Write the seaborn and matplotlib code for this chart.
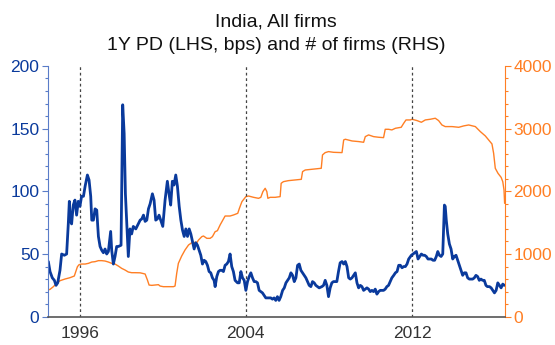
import matplotlib
matplotlib.use("Agg")
import matplotlib.pyplot as plt
from matplotlib.ticker import MultipleLocator, FixedLocator
import numpy as np
import pandas as pd
import seaborn as sns

# 1-year probability of default, basis points (monthly, fractional years)
pd_years = [
    1994.49, 1994.57, 1994.68, 1994.78, 1994.86, 1994.94, 1995.05, 1995.13, 1995.26, 1995.37,
    1995.45, 1995.50, 1995.56, 1995.61, 1995.69, 1995.77, 1995.85, 1995.93, 1996.01, 1996.09,
    1996.18, 1996.26, 1996.37, 1996.45, 1996.53, 1996.58, 1996.66, 1996.74, 1996.82, 1996.90,
    1996.98, 1997.06, 1997.14, 1997.22, 1997.30, 1997.38, 1997.49, 1997.54, 1997.62, 1997.70,
    1997.78, 1997.86, 1997.99, 1998.07, 1998.14, 1998.20, 1998.28, 1998.34, 1998.42, 1998.50,
    1998.58, 1998.70, 1998.79, 1998.91, 1998.99, 1999.07, 1999.15, 1999.23, 1999.31, 1999.39,
    1999.50, 1999.58, 1999.66, 1999.74, 1999.82, 1999.90, 2000.00, 2000.11, 2000.22, 2000.30,
    2000.38, 2000.46, 2000.54, 2000.625, 2000.705, 2000.79, 2000.87, 2000.95, 2001.03, 2001.11,
    2001.19, 2001.27, 2001.35, 2001.43, 2001.51, 2001.59, 2001.67, 2001.75, 2001.83, 2001.91,
    2001.99, 2002.07, 2002.15, 2002.23, 2002.31, 2002.39, 2002.47, 2002.52, 2002.60, 2002.68,
    2002.76, 2002.84, 2002.92, 2003.00, 2003.08, 2003.16, 2003.24, 2003.32, 2003.40, 2003.48,
    2003.60, 2003.68, 2003.76, 2003.84, 2003.92, 2004.00, 2004.08, 2004.16, 2004.24, 2004.32,
    2004.40, 2004.48, 2004.56, 2004.64, 2004.72, 2004.80, 2004.88, 2004.96, 2005.04, 2005.12,
    2005.20, 2005.28, 2005.36, 2005.44, 2005.52, 2005.60, 2005.68, 2005.77, 2005.85, 2005.93,
    2006.01, 2006.09, 2006.17, 2006.25, 2006.33, 2006.41, 2006.49, 2006.57, 2006.65, 2006.73,
    2006.81, 2006.89, 2006.97, 2007.05, 2007.13, 2007.21, 2007.29, 2007.37, 2007.45, 2007.53,
    2007.66, 2007.74, 2007.82, 2007.90, 2007.98, 2008.06, 2008.14, 2008.22, 2008.30, 2008.38,
    2008.46, 2008.54, 2008.63, 2008.71, 2008.79, 2008.87, 2008.95, 2009.03, 2009.11, 2009.19,
    2009.27, 2009.35, 2009.43, 2009.51, 2009.59, 2009.67, 2009.75, 2009.83, 2009.91, 2009.99,
    2010.07, 2010.15, 2010.23, 2010.31, 2010.39, 2010.47, 2010.55, 2010.63, 2010.71, 2010.79,
    2010.87, 2010.95, 2011.03, 2011.12, 2011.20, 2011.28, 2011.36, 2011.44, 2011.52, 2011.60,
    2011.68, 2011.76, 2011.84, 2011.97, 2012.05, 2012.13, 2012.21, 2012.29, 2012.37, 2012.45,
    2012.53, 2012.61, 2012.69, 2012.77, 2012.85, 2012.93, 2013.01, 2013.09, 2013.17, 2013.24,
    2013.32, 2013.40, 2013.48, 2013.56, 2013.60, 2013.65, 2013.72, 2013.80, 2013.88, 2013.96,
    2014.04, 2014.12, 2014.20, 2014.28, 2014.36, 2014.44, 2014.52, 2014.60, 2014.68, 2014.76,
    2014.84, 2014.92, 2015.00, 2015.08, 2015.16, 2015.24, 2015.32, 2015.40, 2015.48, 2015.56,
    2015.63, 2015.73, 2015.81, 2015.89, 2015.97, 2016.05, 2016.13, 2016.21, 2016.29, 2016.37,
    2016.45,
]
pd_bps = [
    44, 36, 31, 29, 25, 27, 37, 50, 49, 50,
    74, 92, 76, 74, 89, 93, 81, 92, 88, 96,
    96, 104, 113, 109, 96, 77, 77, 86, 85, 64,
    56, 53, 51, 54, 50, 52, 68, 53, 42, 48,
    56, 56, 57, 169, 146, 98, 69, 48, 70, 66,
    72, 70, 73, 77, 78, 81, 76, 77, 86, 90,
    98, 93, 77, 78, 81, 77, 72, 93, 108, 98,
    89, 108, 105, 113, 104, 88, 77, 69, 64, 70,
    64, 70, 66, 60, 54, 59, 57, 53, 49, 42,
    45, 44, 41, 36, 35, 31, 29, 24, 32, 36,
    37, 37, 36, 41, 42, 44, 50, 40, 36, 29,
    27, 27, 36, 31, 29, 21, 28, 32, 35, 31,
    28, 28, 27, 21, 20, 19, 17, 15, 15, 15,
    15, 14, 15, 13, 16, 13, 16, 21, 23, 27,
    29, 31, 35, 33, 28, 31, 41, 42, 37, 35,
    33, 31, 28, 25, 24, 28, 27, 25, 24, 23,
    24, 25, 29, 25, 16, 23, 27, 28, 28, 28,
    36, 43, 44, 42, 44, 40, 31, 30, 31, 33,
    35, 27, 23, 25, 24, 21, 22, 23, 22, 20,
    21, 20, 22, 18, 20, 21, 21, 21, 22, 24,
    25, 28, 31, 33, 35, 36, 41, 41, 39, 40,
    40, 42, 46, 49, 50, 51, 52, 46, 48, 50,
    49, 49, 48, 46, 46, 46, 45, 45, 48, 52,
    49, 48, 50, 89, 88, 77, 66, 58, 54, 46,
    48, 49, 45, 41, 37, 33, 35, 35, 31, 30,
    30, 30, 31, 33, 32, 29, 30, 29, 29, 25,
    24, 24, 23, 21, 19, 21, 27, 25, 23, 26,
    25,
]

# Number of firms covered
firm_years = [
    1994.46, 1994.57, 1994.73, 1994.89, 1995.05, 1995.29, 1995.53, 1995.74, 1995.81, 1995.89,
    1995.97, 1996.09, 1996.26, 1996.42, 1996.58, 1996.74, 1996.90, 1997.06, 1997.22, 1997.38,
    1997.54, 1997.70, 1997.86, 1998.02, 1998.18, 1998.34, 1998.50, 1998.66, 1998.91, 1999.15,
    1999.26, 1999.34, 1999.47, 1999.63, 1999.79, 1999.87, 2000.03, 2000.27, 2000.51, 2000.59,
    2000.67, 2000.75, 2000.91, 2001.07, 2001.24, 2001.40, 2001.56, 2001.64, 2001.72, 2001.88,
    2001.96, 2002.12, 2002.28, 2002.39, 2002.52, 2002.63, 2002.76, 2002.87, 2003.00, 2003.13,
    2003.24, 2003.40, 2003.61, 2003.69, 2003.81, 2004.00, 2004.13, 2004.37, 2004.61, 2004.72,
    2004.82, 2004.93, 2005.01, 2005.06, 2005.17, 2005.41, 2005.65, 2005.70, 2005.81, 2006.05,
    2006.38, 2006.67, 2006.73, 2006.86, 2007.18, 2007.63, 2007.69, 2007.82, 2007.98, 2008.22,
    2008.63, 2008.71, 2008.79, 2009.11, 2009.43, 2009.67, 2009.75, 2009.91, 2010.15, 2010.39,
    2010.63, 2010.71, 2010.87, 2011.03, 2011.20, 2011.48, 2011.60, 2011.71, 2011.92, 2012.00,
    2012.24, 2012.45, 2012.64, 2012.88, 2013.12, 2013.28, 2013.44, 2013.60, 2013.93, 2014.25,
    2014.49, 2014.73, 2015.05, 2015.29, 2015.53, 2015.69, 2015.85, 2015.93, 2016.01, 2016.14,
    2016.29, 2016.37, 2016.43, 2016.46,
]
firm_counts = [
    425, 436, 479, 532, 574, 601, 622, 649, 718, 798,
    830, 840, 840, 851, 872, 878, 894, 894, 888, 872,
    851, 840, 808, 771, 745, 713, 702, 702, 700, 681,
    585, 505, 500, 505, 511, 489, 479, 479, 479, 489,
    691, 851, 968, 1064, 1144, 1181, 1186, 1181, 1223, 1277,
    1287, 1250, 1250, 1277, 1356, 1372, 1463, 1527, 1606, 1606,
    1606, 1622, 1649, 1729, 1835, 1915, 1925, 1904, 1888, 1904,
    1995, 2048, 1995, 1888, 1904, 1904, 1915, 2128, 2154, 2170,
    2181, 2191, 2314, 2340, 2351, 2367, 2580, 2617, 2633, 2622,
    2617, 2819, 2830, 2803, 2793, 2782, 2872, 2899, 2872, 2862,
    2856, 2989, 2989, 2979, 3005, 3021, 3085, 3138, 3138, 3149,
    3128, 3101, 3138, 3149, 3165, 3128, 3058, 3032, 3032, 3021,
    3043, 3058, 3032, 2952, 2883, 2819, 2755, 2606, 2367, 2287,
    2223, 2154, 2021, 1808,
]

year_ticks = [1996, 2004, 2012]
year_labels = ["1996", "2004", "2012"]
title_lines = ["India, All firms", "1Y PD (LHS, bps) and # of firms (RHS)"]

BLUE = "#0a3a9c"
BLUE_SPINE = "#5a7cc8"
ORANGE = "#ff7f24"
GREY = "#555555"

sns.set_style("white")
plt.rcParams["font.family"] = ["Liberation Sans", "DejaVu Sans"]

pd_df = pd.DataFrame({"year": pd_years, "bps": pd_bps})
firm_df = pd.DataFrame({"year": firm_years, "firms": firm_counts})

fig = plt.figure(figsize=(5.55, 3.45), dpi=100)
ax = fig.add_axes([0.086, 0.082, 0.824, 0.727])
ax2 = ax.twinx()

sns.lineplot(data=firm_df, x="year", y="firms", ax=ax2, color=ORANGE, lw=1.0)
sns.lineplot(data=pd_df, x="year", y="bps", ax=ax, color=BLUE, lw=2.0)

# PD axis above the firm-count axis
ax.set_zorder(ax2.get_zorder() + 1)
ax.patch.set_visible(False)

xmin, xmax = 1994.46, 2016.48
ax.set_xlim(xmin, xmax)
ax.set_ylim(0, 200)
ax2.set_ylim(0, 4000)

for yr in year_ticks:
    ax.axvline(yr, color="#444444", lw=0.9, ls=(0, (2.2, 2.2)), zorder=0)

ax.xaxis.set_major_locator(FixedLocator(year_ticks))
ax.set_xticklabels(year_labels)
ax.xaxis.set_minor_locator(FixedLocator(list(np.arange(1996 - 1.6, xmax, 0.8))))
ax.yaxis.set_major_locator(MultipleLocator(50))
ax.yaxis.set_minor_locator(MultipleLocator(10))
ax2.yaxis.set_major_locator(MultipleLocator(1000))
ax2.yaxis.set_minor_locator(MultipleLocator(200))

ax.set_xlabel("")
ax.set_ylabel("")
ax2.set_ylabel("")

for spine in ["top"]:
    ax.spines[spine].set_visible(False)
    ax2.spines[spine].set_visible(False)
ax.spines["right"].set_visible(False)
ax2.spines["left"].set_visible(False)
ax2.spines["bottom"].set_visible(False)
ax.spines["left"].set_color(BLUE_SPINE)
ax.spines["bottom"].set_color(GREY)
ax.spines["bottom"].set_linewidth(1.2)
ax2.spines["right"].set_color(ORANGE)

ax.tick_params(axis="y", which="major", direction="out", length=4, width=0.8,
               color=BLUE_SPINE, labelcolor=BLUE, labelsize=12.5, pad=2)
ax.tick_params(axis="y", which="minor", direction="out", length=2, width=0.8,
               color=BLUE_SPINE)
ax2.tick_params(axis="y", which="major", direction="out", length=4, width=0.8,
                color=ORANGE, labelcolor=ORANGE, labelsize=12.5, pad=2)
ax2.tick_params(axis="y", which="minor", direction="out", length=2, width=0.8,
                color=ORANGE)
ax.tick_params(axis="x", which="major", direction="out", length=4, width=0.8,
               color=GREY, labelcolor="#333333", labelsize=12.5, pad=3)
ax.tick_params(axis="x", which="minor", direction="out", length=2.5, width=0.8,
               color=GREY)

fig.text(0.497, 1 - 22 / 345, title_lines[0], ha="center", va="center",
         fontsize=14, color="#111111")
fig.text(0.497, 1 - 45 / 345, title_lines[1], ha="center", va="center",
         fontsize=14, color="#111111")

fig.savefig("out.png", dpi=100)
